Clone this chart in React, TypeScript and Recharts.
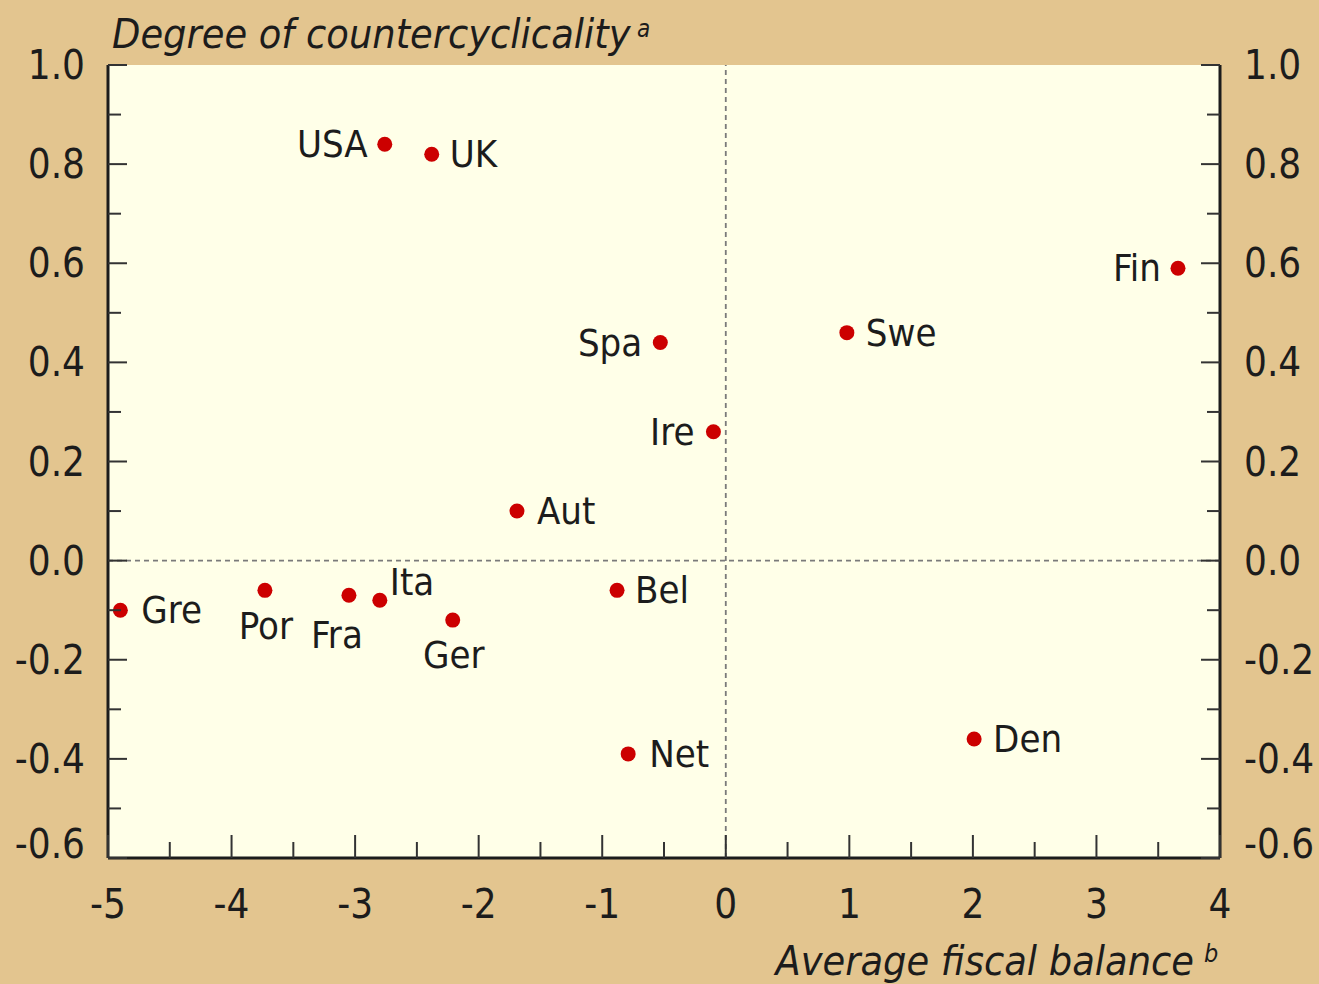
import { CartesianGrid, ReferenceLine, Scatter, ScatterChart, XAxis, YAxis } from 'recharts';

const countries = ['USA', 'UK', 'Fin', 'Spa', 'Swe', 'Ire', 'Aut', 'Gre', 'Por', 'Fra', 'Ita', 'Ger', 'Bel', 'Net', 'Den'];
const fiscalBalance = [-2.76, -2.38, 3.66, -0.53, 0.98, -0.1, -1.69, -4.9, -3.73, -3.05, -2.8, -2.21, -0.88, -0.79, 2.01];
const countercyclicality = [0.84, 0.82, 0.59, 0.44, 0.46, 0.26, 0.1, -0.1, -0.06, -0.07, -0.08, -0.12, -0.06, -0.39, -0.36];

const xMajorTicks = [-5, -4, -3, -2, -1, 0, 1, 2, 3, 4];
const xMinorTicks = [-4.5, -3.5, -2.5, -1.5, -0.5, 0.5, 1.5, 2.5, 3.5];
const yMajorTicks = [-0.6, -0.4, -0.2, 0, 0.2, 0.4, 0.6, 0.8, 1.0];
const yMinorTicks = [-0.5, -0.3, -0.1, 0.1, 0.3, 0.5, 0.7, 0.9];

const yTitle = 'Degree of countercyclicality';
const xTitle = 'Average fiscal balance';

// label offsets from the dot centre: dx, dy, anchor
const labelPlacement: Record<string, [number, number, 'start' | 'middle' | 'end']> = {
  USA: [-17, 0, 'end'],
  UK: [18, 0, 'start'],
  Fin: [-17, 0, 'end'],
  Spa: [-18, 0, 'end'],
  Swe: [19, 0, 'start'],
  Ire: [-19, 0, 'end'],
  Aut: [20, 0, 'start'],
  Gre: [21, 0, 'start'],
  Por: [1, 36, 'middle'],
  Fra: [-12, 40, 'middle'],
  Ita: [10, -18, 'start'],
  Ger: [1, 35, 'middle'],
  Bel: [18, 0, 'start'],
  Net: [21, 0, 'start'],
  Den: [19, 0, 'start'],
};

const points = countries.map((name, i) => ({ name, x: fiscalBalance[i], y: countercyclicality[i] }));

const FONT = '"Liberation Sans Narrow", "DejaVu Sans Condensed", sans-serif';
const INK = '#1c1c1c';
const BG = '#E3C58F';
const PLOT_BG = '#FFFFE8';
const RED = '#CC0000';

const allYTicks = [...yMajorTicks, ...yMinorTicks].sort((a, b) => a - b);
const allXTicks = [...xMajorTicks, ...xMinorTicks].sort((a, b) => a - b);

const isIn = (list: number[], v: number) => list.some((m) => Math.abs(m - v) < 1e-9);
// bottom label sits a little higher so it clears the x labels
const liftY = (v: number) => (Math.abs(v - yMajorTicks[0]) < 1e-9 ? -14 : 0);

const LeftTick = ({ x, y, payload }: any) => {
  const major = isIn(yMajorTicks, payload.value);
  return (
    <g>
      <line x1={x} x2={x + (major ? 19 : 13)} y1={y} y2={y} stroke="#333" strokeWidth={2} />
      {major && (
        <text x={x - 23} y={y + liftY(payload.value)} textAnchor="end" dominantBaseline="central" fontSize={40} fontFamily={FONT} fill={INK}>
          {payload.value.toFixed(1)}
        </text>
      )}
    </g>
  );
};

const RightTick = ({ x, y, payload }: any) => {
  const major = isIn(yMajorTicks, payload.value);
  return (
    <g>
      <line x1={x} x2={x - (major ? 19 : 13)} y1={y} y2={y} stroke="#333" strokeWidth={2} />
      {major && (
        <text x={x + 24} y={y + liftY(payload.value)} textAnchor="start" dominantBaseline="central" fontSize={40} fontFamily={FONT} fill={INK}>
          {payload.value.toFixed(1)}
        </text>
      )}
    </g>
  );
};

const BottomTick = ({ x, y, payload }: any) => {
  const major = isIn(xMajorTicks, payload.value);
  return (
    <g>
      <line x1={x} x2={x} y1={y} y2={y - (major ? 23 : 16)} stroke="#333" strokeWidth={2} />
      {major && (
        <text x={x} y={y + 60} textAnchor="middle" fontSize={40} fontFamily={FONT} fill={INK}>
          {String(payload.value)}
        </text>
      )}
    </g>
  );
};

const Dot = (props: any) => {
  const { cx, cy, payload } = props;
  const [dx, dy, anchor] = labelPlacement[payload.name] ?? [18, 0, 'start'];
  return (
    <g>
      <circle cx={cx} cy={cy} r={7.5} fill={RED} />
      <text
        x={cx + dx}
        y={cy + dy}
        textAnchor={anchor}
        dominantBaseline="central"
        fontSize={38}
        fontFamily={FONT}
        fill={INK}
      >
        {payload.name}
      </text>
    </g>
  );
};

const Nothing = () => <g />;

const axisLine = { stroke: INK, strokeWidth: 3 };

export default function App() {
  return (
    <div style={{ position: 'absolute', left: 0, top: 0, width: 1319, height: 984, background: BG }}>
      <ScatterChart width={1319} height={984} margin={{ top: 65, right: 0, bottom: 0, left: 0 }}>
        <CartesianGrid horizontal={false} vertical={false} fill={PLOT_BG} />
        <XAxis
          type="number"
          dataKey="x"
          domain={[-5, 4]}
          ticks={allXTicks}
          interval={0}
          height={126}
          tickSize={0}
          tickMargin={0}
          tickLine={false}
          axisLine={axisLine}
          tick={<BottomTick />}
          allowDataOverflow
        />
        <XAxis xAxisId="top" orientation="top" type="number" domain={[-5, 4]} height={0} tick={false} tickLine={false} axisLine={axisLine} />
        <YAxis
          type="number"
          dataKey="y"
          domain={[-0.6, 1.0]}
          ticks={allYTicks}
          interval={0}
          width={108}
          tickSize={0}
          tickMargin={0}
          tickLine={false}
          axisLine={axisLine}
          tick={<LeftTick />}
          allowDataOverflow
        />
        <YAxis
          yAxisId="right"
          orientation="right"
          type="number"
          dataKey="y"
          domain={[-0.6, 1.0]}
          ticks={allYTicks}
          interval={0}
          width={99}
          tickSize={0}
          tickMargin={0}
          tickLine={false}
          axisLine={axisLine}
          tick={<RightTick />}
          allowDataOverflow
        />
        <ReferenceLine x={0} stroke="#7a7a7a" strokeWidth={1.8} strokeDasharray="5 4" />
        <ReferenceLine y={0} stroke="#7a7a7a" strokeWidth={1.8} strokeDasharray="5 4" />
        <Scatter yAxisId="right" data={points} shape={<Nothing />} isAnimationActive={false} />
        <Scatter data={points} shape={<Dot />} isAnimationActive={false} />
      </ScatterChart>
      <svg width={1319} height={984} style={{ position: 'absolute', left: 0, top: 0, pointerEvents: 'none' }}>
        <text x={112} y={48} fontSize={41} fontStyle="italic" fontFamily={FONT} fill={INK}>
          {yTitle}
        </text>
        <text x={637} y={37} fontSize={24} fontStyle="italic" fontFamily={FONT} fill={INK}>
          a
        </text>
        <text x={1194} y={975} textAnchor="end" fontSize={41} fontStyle="italic" fontFamily={FONT} fill={INK}>
          {xTitle}
        </text>
        <text x={1204} y={962} fontSize={25} fontStyle="italic" fontFamily={FONT} fill={INK}>
          b
        </text>
      </svg>
    </div>
  );
}
